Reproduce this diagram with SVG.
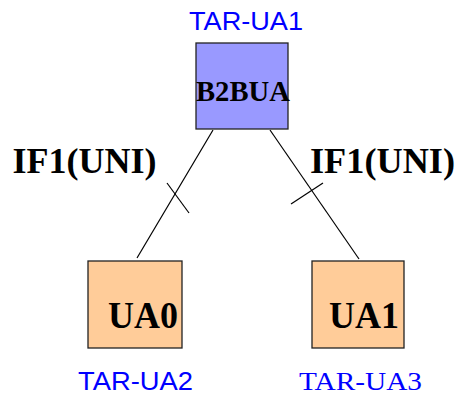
<svg xmlns="http://www.w3.org/2000/svg" width="458" height="396" viewBox="0 0 458 396">
<style>
.box{stroke:#222;stroke-width:1.3}
.lbl{font-family:"Liberation Serif","Times New Roman",serif;font-weight:bold;fill:#000}
.tar{font-family:"Liberation Sans",Arial,sans-serif;fill:#0000ff;font-size:25px}
.tars{font-family:"Liberation Serif","Times New Roman",serif;fill:#0000ff;font-size:26px}
.ln{stroke:#000;stroke-width:1.2;fill:none}
</style>
<rect width="458" height="396" fill="#fff"/>
<g id="connectors">
<line class="ln" x1="213" y1="130" x2="137" y2="258"/>
<line class="ln" x1="167" y1="183" x2="189" y2="213"/>
<line class="ln" x1="270" y1="130" x2="359" y2="259"/>
<line class="ln" x1="291" y1="204" x2="323" y2="183"/>
<text class="lbl" x="12.5" y="172.5" font-size="36" textLength="144" lengthAdjust="spacingAndGlyphs">IF1(UNI)</text>
<text class="lbl" x="310" y="173" font-size="36" textLength="145" lengthAdjust="spacingAndGlyphs">IF1(UNI)</text>
</g>
<g id="b2bua">
<text class="tar" x="189" y="30" textLength="114" lengthAdjust="spacingAndGlyphs">TAR-UA1</text>
<rect class="box" x="196" y="43" width="92" height="86" fill="#9999ff"/>
<text class="lbl" x="196" y="100.5" font-size="29" textLength="94" lengthAdjust="spacingAndGlyphs">B2BUA</text>
</g>
<g id="ua0">
<rect class="box" x="88" y="261" width="94" height="87" fill="#ffcc99"/>
<text class="lbl" x="108" y="328" font-size="37" textLength="70" lengthAdjust="spacingAndGlyphs">UA0</text>
<text class="tar" x="78" y="390" textLength="115" lengthAdjust="spacingAndGlyphs">TAR-UA2</text>
</g>
<g id="ua1">
<rect class="box" x="312" y="261" width="92" height="87" fill="#ffcc99"/>
<text class="lbl" x="329" y="328" font-size="37" textLength="70" lengthAdjust="spacingAndGlyphs">UA1</text>
<text class="tars" x="299" y="390" textLength="123" lengthAdjust="spacingAndGlyphs">TAR-UA3</text>
</g>
</svg>
